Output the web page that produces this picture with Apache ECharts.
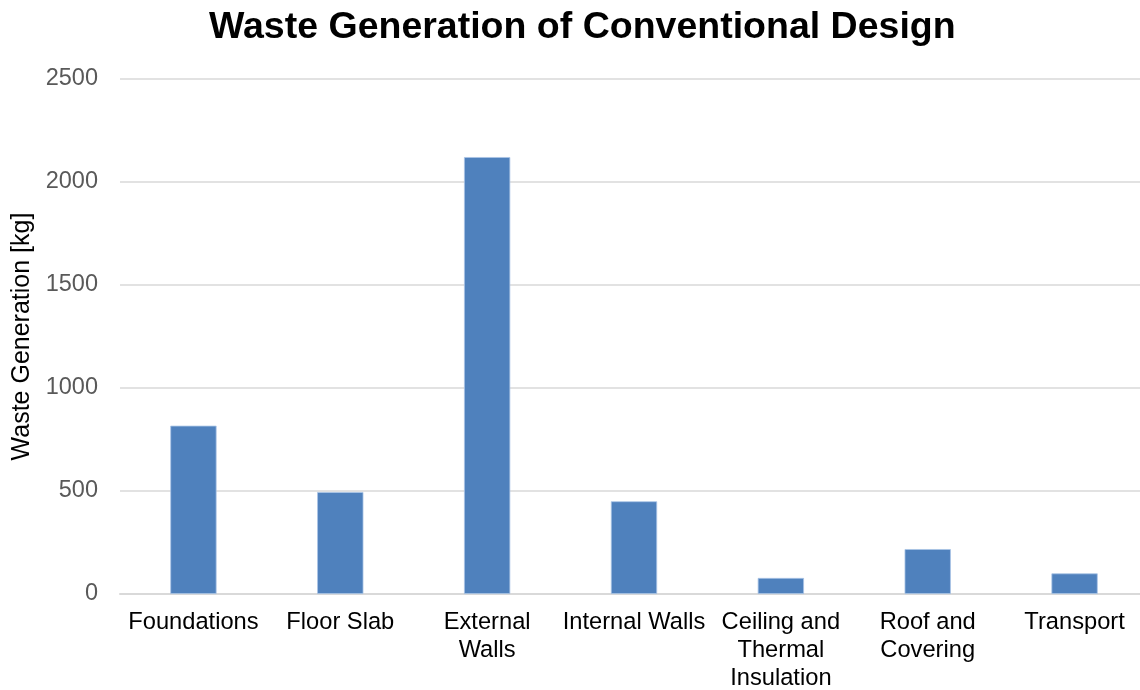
<!DOCTYPE html>
<html>
<head>
<meta charset="utf-8">
<script src="https://cdn.jsdelivr.net/npm/echarts@6/dist/echarts.min.js"></script>
<style>html,body{margin:0;padding:0;background:#fff;overflow:hidden;}#c{width:1140px;height:690px;}</style>
</head>
<body>
<div id="c"></div>
<script>
const categories = ['Foundations', 'Floor Slab', 'External Walls', 'Internal Walls', 'Ceiling and Thermal Insulation', 'Roof and Covering', 'Transport'];
const categoryLabels = ['Foundations', 'Floor Slab', 'External\nWalls', 'Internal Walls', 'Ceiling and\nThermal\nInsulation', 'Roof and\nCovering', 'Transport'];
const wasteValues = [817, 495, 2121, 450, 78, 218, 100];
const yTicks = [0, 500, 1000, 1500, 2000, 2500];

const chart = echarts.init(document.getElementById('c'), null, {renderer: 'canvas'});
chart.setOption({
  animation: false,
  backgroundColor: '#ffffff',
  title: {
    text: 'Waste Generation of Conventional Design',
    left: 204,
    top: 4,
    textStyle: {fontFamily: 'Liberation Sans, Arial, sans-serif', fontSize: 37.5, fontWeight: 'bold', color: '#000000'}
  },
  grid: {left: 120, right: -8, top: 79, bottom: 96, containLabel: false, outerBoundsMode: 'none'},
  xAxis: {
    type: 'category',
    data: categories,
    axisLine: {show: true, lineStyle: {color: '#d9d9d9', width: 2}},
    axisTick: {show: false},
    axisLabel: {
      interval: 0,
      margin: 14,
      color: '#000000',
      fontFamily: 'Liberation Sans, Arial, sans-serif',
      fontSize: 23.7,
      lineHeight: 28,
      formatter: function (v, i) { return categoryLabels[i]; }
    }
  },
  yAxis: {
    type: 'value',
    min: yTicks[0],
    max: yTicks[yTicks.length - 1],
    interval: 500,
    name: 'Waste Generation [kg]',
    nameLocation: 'middle',
    nameGap: 83,
    nameRotate: 90,
    nameTextStyle: {fontFamily: 'Liberation Sans, Arial, sans-serif', fontSize: 25, color: '#000000'},
    axisLine: {show: false},
    axisTick: {show: false},
    axisLabel: {
      margin: 22,
      color: '#595959',
      fontFamily: 'Liberation Sans, Arial, sans-serif',
      fontSize: 23.5,
      formatter: function (v) { return String(v); }
    },
    splitLine: {lineStyle: {color: '#d9d9d9', width: 1.5}}
  },
  series: [{
    type: 'bar',
    data: wasteValues,
    barWidth: '31.5%',
    itemStyle: {color: '#4f81bd', borderColor: '#a9c4e6', borderWidth: 0.8}
  }]
});
</script>
</body>
</html>
